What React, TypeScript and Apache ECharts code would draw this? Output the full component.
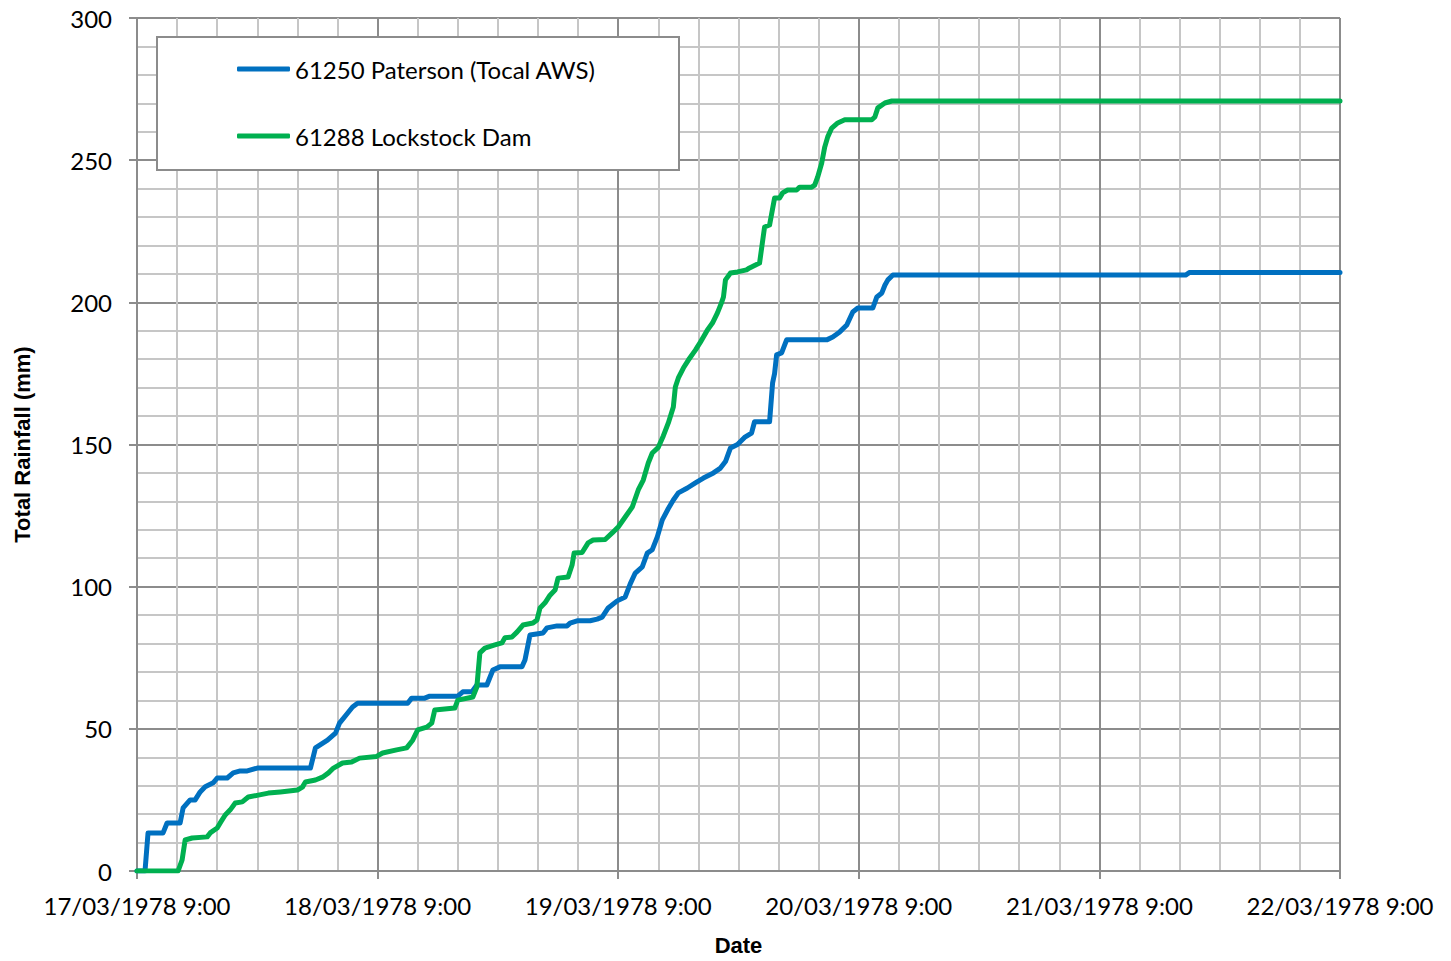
import React, { useEffect, useRef } from "react";
import * as echarts from "echarts";

// Tick labels for the x axis (one per day, at 9:00)
const dateLabels = [
  "17/03/1978 9:00",
  "18/03/1978 9:00",
  "19/03/1978 9:00",
  "20/03/1978 9:00",
  "21/03/1978 9:00",
  "22/03/1978 9:00",
];

const seriesNames = ["61250 Paterson (Tocal AWS)", "61288 Lockstock Dam"];

// 61250 Paterson (Tocal AWS): hours since 17/03/1978 9:00 and cumulative rainfall (mm)
const patersonHours = [
  0, 0.8, 1.1, 2.6, 3.0, 4.3, 4.6, 5.3, 5.8, 6.3, 6.8, 7.6, 8.0, 9.0, 9.6, 10.3, 11.0, 12.0,
  17.3, 17.8, 19.0, 19.8, 20.2, 21.0, 21.5, 22.0, 27.0, 27.4, 28.7, 29.2, 32.0, 32.5, 33.4,
  33.9, 34.9, 35.5, 36.2, 38.4, 38.7, 39.2, 40.5, 40.9, 41.9, 42.9, 43.2, 43.9, 45.2, 45.9,
  46.4, 47.0, 47.9, 48.7, 49.2, 49.7, 50.4, 50.9, 51.4, 51.9, 52.4, 53.0, 53.5, 54.0, 54.9,
  55.7, 56.5, 57.5, 58.2, 58.7, 59.2, 59.9, 60.6, 61.3, 61.6, 63.1, 63.4, 63.6, 63.8, 64.3,
  64.8, 68.8, 69.4, 70.1, 70.8, 71.4, 71.9, 73.4, 73.8, 74.3, 74.6, 74.9, 75.4, 104.6, 105.0,
  120,
];
const patersonValues = [
  0, 0, 13.4, 13.4, 16.9, 16.9, 22.2, 25, 25, 27.8, 29.6, 31, 32.7, 32.7, 34.5, 35.2, 35.2, 36.2,
  36.2, 43.3, 46, 48.5, 52, 55.5, 57.7, 59, 59, 60.8, 60.8, 61.5, 61.5, 63, 63,
  65.4, 65.4, 70.7, 71.8, 71.8, 74.2, 83, 83.7, 85.5, 86.2, 86.2, 87.2, 88, 88, 88.6,
  89.3, 92.5, 95, 96.4, 101, 104.8, 107, 111.8, 113, 117.5, 123.5, 127.5, 130.5, 133, 134.7,
  136.5, 138.2, 140, 141.7, 144, 148.8, 150, 152.5, 154, 158, 158, 171.6, 175, 181.5, 182.2,
  186.8, 186.8, 187.8, 189.6, 192, 196.6, 198, 198, 201.9, 203.3, 206, 207.9, 209.6, 209.6, 210.5,
  210.5,
];

// 61288 Lockstock Dam
const lockstockHours = [
  0, 4.1, 4.5, 4.8, 5.5, 7.0, 7.3, 8.0, 8.3, 8.8, 9.3, 9.8, 10.5, 11.1, 12.1, 13.1, 14.3, 16.0,
  16.5, 16.8, 17.8, 18.5, 19.1, 19.6, 20.5, 21.4, 22.2, 23.9, 24.5, 25.9, 26.9, 27.5, 28.0,
  28.9, 29.4, 29.7, 31.7, 32.0, 33.5, 33.9, 34.2, 34.7, 35.7, 36.4, 36.7, 37.4, 37.9, 38.5,
  39.5, 39.9, 40.2, 40.7, 41.2, 41.7, 42.0, 43.0, 43.4, 43.6, 44.4, 45.0, 45.5, 46.7, 47.4,
  48.0, 48.7, 49.4, 50.0, 50.5, 51.0, 51.4, 52.0, 52.5, 53.0, 53.5, 53.7, 54.0, 54.5, 55.0,
  55.7, 56.2, 56.5, 56.9, 57.4, 57.9, 58.3, 58.5, 58.7, 59.2, 59.9, 60.8, 61.1, 62.1, 62.6,
  63.1, 63.6, 64.1, 64.4, 64.9, 65.8, 66.1, 67.3, 67.6, 67.9, 68.3, 68.6, 68.9, 69.3, 69.9,
  70.6, 73.3, 73.6, 73.9, 74.6, 75.3, 120,
];
const lockstockValues = [
  0, 0, 3.9, 10.9, 11.6, 12, 13.4, 15.1, 16.9, 19.7, 21.5, 23.9, 24.3, 26, 26.7, 27.4, 27.8, 28.5,
  29.5, 31.3, 32, 33, 34.5, 36.2, 38, 38.3, 39.7, 40.3, 41.5, 42.6, 43.3, 46, 49.6,
  50.6, 52, 56.6, 57.3, 60.1, 61.2, 64.7, 76.7, 78.4, 79.5, 80.2, 82, 82.3, 84, 86.5,
  87.2, 88.3, 92.5, 94.3, 97, 98.8, 103, 103.4, 107.6, 111.8, 112, 115.4, 116.4, 116.6, 118.9,
  121, 124.5, 128, 134, 137.5, 143.5, 147, 149, 153, 157.6, 163.2, 170.2, 173.4, 176.9, 179.7,
  183.2, 186, 187.8, 190.3, 192.7, 196.3, 199.8, 201.9, 207.9, 210.3, 210.7, 211.4, 212.1, 213.8, 226.5,
  227.2, 236.7, 236.7, 238.5, 239.5, 239.5, 240.5, 240.5, 241.2, 244.1, 249, 254.6, 258.2, 261.3, 263.1,
  264.2, 264.2, 265.2, 268.4, 270.1, 270.8, 270.8,
];

const seriesColors = ["#0070C0", "#00B050"];

const zip = (xs: number[], ys: number[]) => xs.map((x, i) => [x, ys[i]]);

export default function App() {
  const ref = useRef<HTMLDivElement>(null);

  useEffect(() => {
    if (!ref.current) return;
    const chart = echarts.init(ref.current, undefined, { renderer: "svg" });
    const font = "Lato, 'Noto Sans', sans-serif";
    const titleFont = "'Liberation Sans', Arial, sans-serif";
    const major = "#8c8c8c";
    const minor = "#c6c6c6";

    chart.setOption({
      animation: false,
      backgroundColor: "#ffffff",
      grid: { left: 137, right: 111, top: 18, bottom: 90, containLabel: false },
      xAxis: {
        type: "value",
        min: 0,
        max: 120,
        interval: 24,
        name: "Date",
        nameLocation: "middle",
        nameGap: 63,
        nameTextStyle: { fontFamily: titleFont, fontWeight: "bold", fontSize: 22, color: "#000" },
        axisLine: { show: true, lineStyle: { color: major, width: 2 } },
        axisTick: { show: true, length: 8, lineStyle: { color: major, width: 2 } },
        axisLabel: {
          margin: 22,
          fontFamily: font,
          fontSize: 24,
          color: "#000",
          formatter: (v: number) => dateLabels[Math.round(v / 24)] ?? "",
        },
        splitLine: { show: true, lineStyle: { color: major, width: 2 } },
        minorTick: { show: false, splitNumber: 6 },
        minorSplitLine: { show: true, lineStyle: { color: minor, width: 2 } },
      },
      yAxis: {
        type: "value",
        min: 0,
        max: 300,
        interval: 50,
        name: "Total Rainfall (mm)",
        nameLocation: "middle",
        nameRotate: 90,
        nameGap: 104,
        nameTextStyle: { fontFamily: titleFont, fontWeight: "bold", fontSize: 22, color: "#000" },
        axisLine: { show: true, lineStyle: { color: major, width: 2 } },
        axisTick: { show: true, length: 8, lineStyle: { color: major, width: 2 } },
        axisLabel: { margin: 25, fontFamily: font, fontSize: 24, color: "#000" },
        splitLine: { show: true, lineStyle: { color: major, width: 2 } },
        minorTick: { show: false, splitNumber: 5 },
        minorSplitLine: { show: true, lineStyle: { color: minor, width: 2 } },
      },
      legend: {
        show: true,
        orient: "vertical",
        left: 232,
        top: 52,
        z: 10,
        icon: "roundRect",
        itemWidth: 53,
        itemHeight: 5,
        itemGap: 43,
        textStyle: { fontFamily: font, fontSize: 24, color: "#000", lineHeight: 24 },
        data: seriesNames,
      },
      graphic: [
        {
          type: "rect",
          shape: { x: 157, y: 37, width: 522, height: 133 },
          style: { fill: "#ffffff", stroke: "#8c8c8c", lineWidth: 2 },
          z: 4,
        },
      ],
      series: [
        {
          name: seriesNames[0],
          type: "line",
          symbol: "none",
          z: 3,
          lineStyle: { color: seriesColors[0], width: 5, cap: "round", join: "round" },
          itemStyle: { color: seriesColors[0] },
          data: zip(patersonHours, patersonValues),
        },
        {
          name: seriesNames[1],
          type: "line",
          symbol: "none",
          z: 3,
          lineStyle: { color: seriesColors[1], width: 5, cap: "round", join: "round" },
          itemStyle: { color: seriesColors[1] },
          data: zip(lockstockHours, lockstockValues),
        },
      ],
    });

    return () => chart.dispose();
  }, []);

  return (
    <div
      ref={ref}
      style={{ position: "absolute", left: 0, top: 0, width: 1451, height: 961, background: "#fff" }}
    />
  );
}
